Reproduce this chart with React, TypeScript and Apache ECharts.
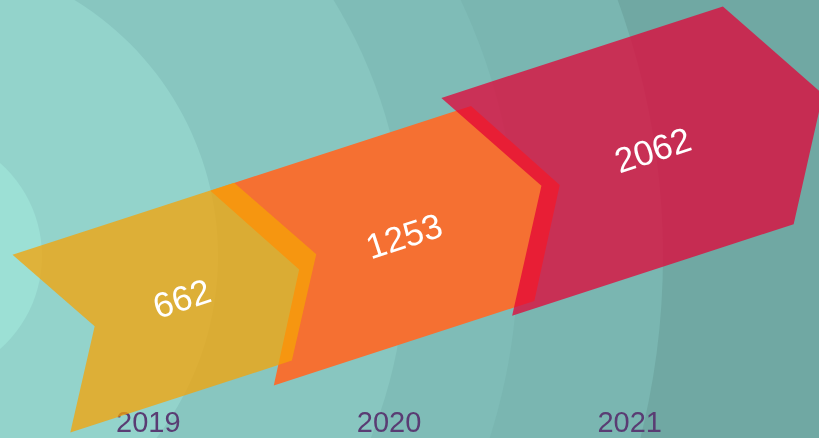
import React, { useEffect, useRef } from "react";
import * as echarts from "echarts";

// ---- data ----
const YEARS = ["2019", "2020", "2021"];
const VALUES = [662, 1253, 2062];

// ---- styling (sizes / colours of the chevron marks) ----
const SHAPE_W = [233, 274, 296];
const SHAPE_H = [187, 205, 229];
const NOTCH = [56, 60, 68];
const ANGLE = 18;
// symbol offset along x, as a fraction of the symbol's width (like pictorialBar symbolOffset)
const SYMBOL_OFFSET = -1.38;
const FILLS = ["rgba(245,163,5,0.75)", "rgba(245,112,50,1)", "rgba(227,3,55,0.75)"];
const ZORDER = [2, 1, 3];

// background radial bands (outer -> inner)
const BAND_CENTER = [-82, 256];
const BAND_R = [745, 600, 488, 300, 124];
const BAND_COLORS = ["#7ab6b1", "#7fbcb7", "#88c6c0", "#93d3cb", "#9ce0d5"];
const OUTER_COLOR = "#70a8a3";

const FONT = '"Liberation Sans", Arial, Helvetica, sans-serif';

export default function App() {
  const ref = useRef<HTMLDivElement>(null);

  useEffect(() => {
    if (!ref.current) return;
    const chart = echarts.init(ref.current, null, { renderer: "svg" });

    const bg: any[] = [
      {
        type: "rect",
        silent: true,
        z: -10,
        shape: { x: 0, y: 0, width: 819, height: 438 },
        style: { fill: OUTER_COLOR },
      },
      ...BAND_R.map((r, k) => ({
        type: "circle",
        silent: true,
        z: -10 + k + 1,
        shape: { cx: BAND_CENTER[0], cy: BAND_CENTER[1], r },
        style: { fill: BAND_COLORS[k] },
      })),
    ];

    const yAxisBase = {
      type: "value",
      min: 0,
      max: 3600,
      show: false,
      splitLine: { show: false },
    };

    const option: any = {
      animation: false,
      graphic: { elements: bg },
      grid: [
        { left: 28, width: 722, top: 0, bottom: 61, outerBoundsMode: "none", containLabel: false },
        { left: 321, width: 822, top: 0, bottom: 61, outerBoundsMode: "none", containLabel: false },
      ],
      xAxis: [
        {
          type: "category",
          gridIndex: 0,
          data: YEARS,
          boundaryGap: true,
          axisLine: { show: false },
          axisTick: { show: false },
          splitLine: { show: false },
          axisLabel: {
            color: "#5a3c73",
            fontSize: 29,
            fontFamily: FONT,
            margin: 30,
          },
        },
        {
          type: "category",
          gridIndex: 1,
          data: YEARS,
          boundaryGap: true,
          show: false,
        },
      ],
      yAxis: [
        { ...yAxisBase, gridIndex: 0 },
        { ...yAxisBase, gridIndex: 1 },
      ],
      series: [
        {
          type: "custom",
          xAxisIndex: 1,
          yAxisIndex: 1,
          data: VALUES.map((v, i) => [i, v]),
          renderItem: (params: any, api: any) => {
            const i = params.dataIndex;
            const val = api.value(1);
            const anchor = api.coord([api.value(0), val]);
            const w = SHAPE_W[i];
            const h = SHAPE_H[i];
            const d = NOTCH[i];
            const th = (ANGLE * Math.PI) / 180;
            const cs = Math.cos(th);
            const sn = Math.sin(th);
            const c = [anchor[0] + SYMBOL_OFFSET * w * cs, anchor[1]];
            const tf = (x: number, y: number) => [
              c[0] + x * cs + y * sn,
              c[1] - x * sn + y * cs,
            ];
            const pts = [
              tf(-w / 2, -h / 2),
              tf(w / 2, -h / 2),
              tf(w / 2 + d, 0),
              tf(w / 2, h / 2),
              tf(-w / 2, h / 2),
              tf(-w / 2 + d, 0),
            ];
            const tp = tf(d / 2 + 3, 0);
            return {
              type: "group",
              children: [
                {
                  type: "polygon",
                  shape: { points: pts },
                  style: { fill: FILLS[i] },
                  z2: ZORDER[i],
                },
                {
                  type: "text",
                  x: tp[0],
                  y: tp[1],
                  rotation: th,
                  z2: 10,
                  style: {
                    text: String(val),
                    fill: "#ffffff",
                    font: `35px ${FONT}`,
                    align: "center",
                    verticalAlign: "middle",
                  },
                },
              ],
            };
          },
        },
      ],
    };

    chart.setOption(option);
    return () => chart.dispose();
  }, []);

  return (
    <div
      ref={ref}
      style={{ position: "fixed", left: 0, top: 0, width: 819, height: 438 }}
    />
  );
}
